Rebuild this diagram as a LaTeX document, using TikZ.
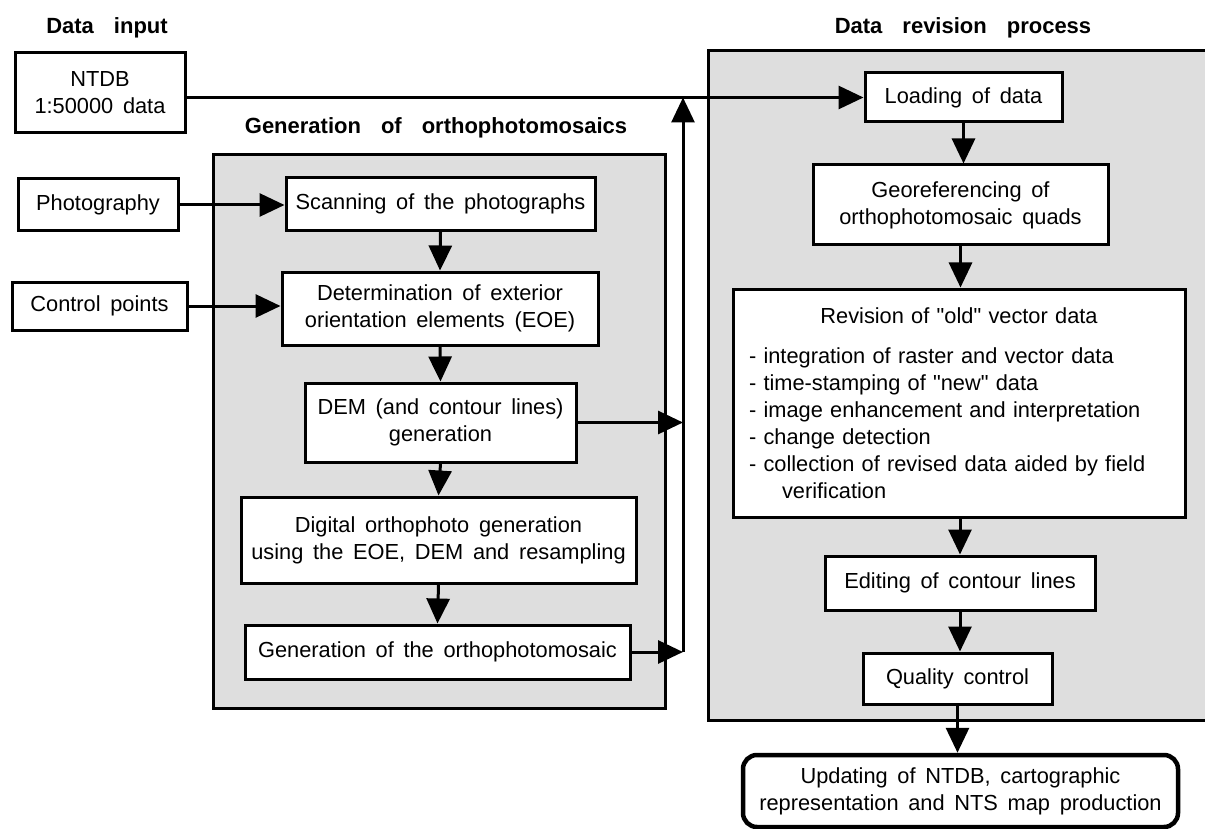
\documentclass[tikz,border=0pt]{standalone}
\usepackage{fontspec}
\setmainfont{Liberation Sans}[WordSpace=1.6, Ligatures=TeXOff]
\usetikzlibrary{arrows.meta}
\newcommand\widesp{\spaceskip 20pt\relax}
\begin{document}
\begin{tikzpicture}[x=1pt,y=-1pt,
  box/.style={draw=black, line width=3pt, fill=white, align=center, inner sep=0pt,
    font=\fontsize{21.8}{27}\selectfont},
  panel/.style={draw=black, line width=3pt, fill=black!13},
  conn/.style={line width=3pt, -{Triangle[length=25pt,width=23pt]}},
  ttl/.style={inner sep=0pt, font={\fontsize{22}{26}\selectfont\bfseries\widesp}}
]
\useasboundingbox (0,0) rectangle (1205,829);

% panels
\path[panel] (213,155) rectangle (665,708);
\path[panel] (708,51) rectangle (1220,720);

% titles
\node[ttl] (t1) at (107,28) {Data input};
\node[ttl] (t2) at (436,128) {Generation of orthophotomosaics};
\node[ttl] (t3) at (963,28) {Data revision process};

% data input
\node[box, minimum width=170pt, minimum height=80pt] (ntdb) at (100,93) {NTDB\\1:50000 data};
\node[box, minimum width=160pt, minimum height=52pt] (photo) at (98,205) {Photography};
\node[box, minimum width=175pt, minimum height=48pt] (ctrl) at (99.5,306) {Control points};

% generation of orthophotomosaics
\node[box, minimum width=309pt, minimum height=53pt] (scan) at (440.5,204) {Scanning of the photographs};
\node[box, minimum width=316pt, minimum height=73pt] (det) at (440,308.5) {Determination of exterior\\orientation elements (EOE)};
\node[box, minimum width=271pt, minimum height=79pt] (dem) at (440.5,422.5) {DEM (and contour lines)\\generation};
\node[box, minimum width=395pt, minimum height=86pt] (dig) at (438.5,540) {Digital orthophoto generation\\using the EOE, DEM and resampling};
\node[box, minimum width=385pt, minimum height=54pt] (gen) at (437.5,652) {Generation of the orthophotomosaic};

% data revision process
\node[box, minimum width=197pt, minimum height=49pt] (load) at (963.5,97.5) {Loading of data};
\node[box, minimum width=295pt, minimum height=80pt] (geo) at (960.5,205) {Georeferencing of\\orthophotomosaic quads};
\node[box, minimum width=452pt, minimum height=228pt, text width=420pt, align=left] (rev) at (959,403)
  {\centering Revision of "old" vector data\par\vspace{13pt}\raggedright
   - integration of raster and vector data\\
   - time-stamping of "new" data\\
   - image enhancement and interpretation\\
   - change detection\\
   - collection of revised data aided by field\\
   \hspace*{33pt}verification\par};
\node[box, minimum width=270pt, minimum height=54pt] (edit) at (960,583) {Editing of contour lines};
\node[box, minimum width=189pt, minimum height=51pt] (qual) at (957.5,678.5) {Quality control};
\node[box, line width=4.5pt, rounded corners=14pt, minimum width=435pt, minimum height=72pt] (final) at (960.5,791)
  {Updating of NTDB, cartographic\\representation and NTS map production};

% connectors
\coordinate (vb) at (683,652);
\coordinate (vt) at (683,97.5);
\draw[conn] (ntdb.east |- load.west) -- (load.west);
\draw[conn] (photo.east) -- (scan.west |- photo.east);
\draw[conn] (ctrl.east) -- (det.west |- ctrl.east);
\draw[conn] (scan.south) -- (det.north);
\draw[conn] (det.south) -- (dem.north);
\draw[conn] (dem.south) -- (dig.north);
\draw[conn] (dig.south) -- (gen.north);
\draw[conn] (dem.east) -- (dem.east -| vb);
\draw[conn] (gen.east) -- (vb);
\draw[conn] (vb) -- (vt);
\draw[conn] (load.south) -- (load.south |- geo.north);
\draw[conn] (geo.south) -- (geo.south |- rev.north);
\draw[conn] (rev.south -| edit.north) -- (edit.north);
\draw[conn] (edit.south) -- (edit.south |- qual.north);
\draw[conn] (qual.south) -- (qual.south |- final.north);
\end{tikzpicture}
\end{document}
